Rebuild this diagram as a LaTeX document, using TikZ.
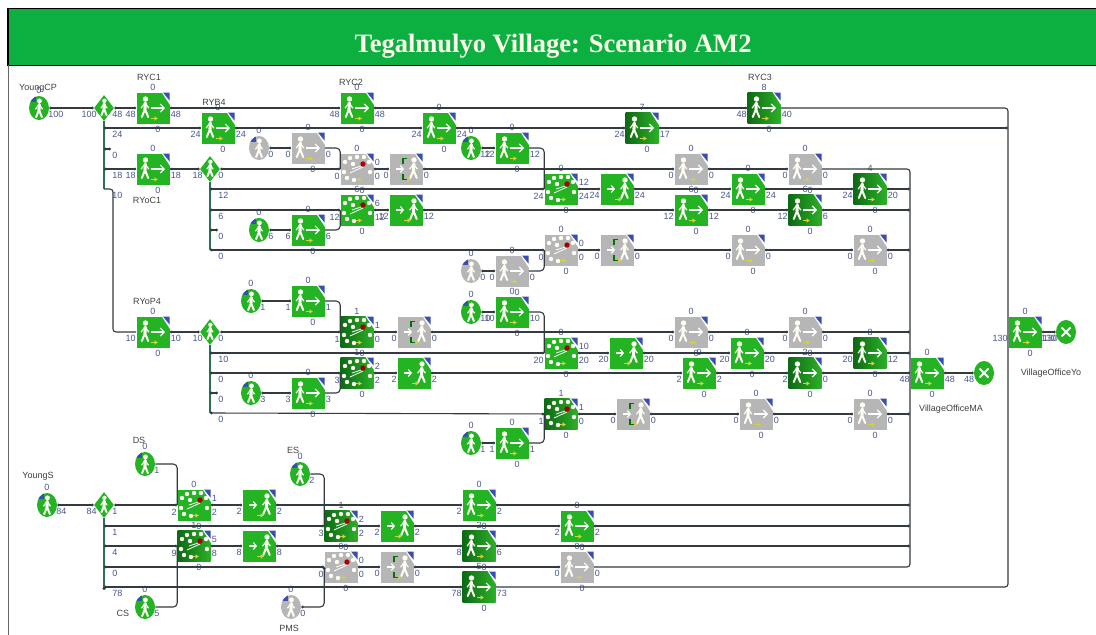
\documentclass[tikz,border=0pt]{standalone}
\usepackage{fontspec}
\setmainfont{Liberation Serif}
\setsansfont{Liberation Sans}
\usetikzlibrary{arrows.meta,shapes.geometric}
\definecolor{liteG}{HTML}{23B323}
\definecolor{deepL}{HTML}{0E6A14}
\definecolor{deepR}{HTML}{2CB028}
\definecolor{idleG}{HTML}{B6B6B6}
\definecolor{numC}{HTML}{47558F}
\definecolor{wireC}{HTML}{333A40}
\definecolor{busC}{HTML}{2F6F55}
\definecolor{cornerC}{HTML}{3A4DB0}
\definecolor{markC}{HTML}{D2D23C}
\definecolor{barC}{HTML}{0CB040}
\newcommand{\stage}[8]{%
  \node[boxn,#3] (#1) at (#2) {};
  \pic at (#1.center) {#4};
  \node[numl] (#1t) at ([shift={(0,-21)}]#1.center) {#5};
  \node[numl,anchor=east] (#1i) at ([shift={(-17,6.5)}]#1.center) {#6};
  \node[numl,anchor=west] (#1o) at ([shift={(17.5,6.5)}]#1.center) {#7};
  \node[numl] (#1b) at ([shift={(5,21)}]#1.center) {#8};
}
\newcommand{\pass}[5]{%
  \node[boxn,#3] (#1) at (#2) {};
  \pic at (#1.center) {#3icon};
  \node[numl,anchor=east] (#1i) at ([shift={(-17,6.5)}]#1.center) {#4};
  \node[numl,anchor=west] (#1o) at ([shift={(17.5,6.5)}]#1.center) {#5};
}
\newcommand{\merge}[8]{%
  \node[boxn,#3] (#1) at (#2) {};
  \pic at (#1.center) {mergeicon};
  \node[numl] (#1t) at ([shift={(0,-21)}]#1.center) {#4};
  \node[numl,anchor=east] (#1i) at ([shift={(-17,7)}]#1.center) {#5};
  \node[numl,anchor=west] (#1u) at ([shift={(17.5,-7)}]#1.center) {#6};
  \node[numl,anchor=west] (#1o) at ([shift={(17.5,7)}]#1.center) {#7};
  \node[numl] (#1b) at ([shift={(5,21)}]#1.center) {#8};
}
\newcommand{\source}[5]{%
  \node[srcn,#3] (#1) at (#2) {};
  \pic at (#1.center) {srcicon};
  \node[numl] (#1t) at ([shift={(0,-18)}]#1.center) {#4};
  \node[numl,anchor=west] (#1o) at ([shift={(9,6.5)}]#1.center) {#5};
}
\newcommand{\splitter}[4]{%
  \node[dian] (#1) at (#2) {};
  \pic[scale=0.8] at (#1.center) {walkman};
  \node[numl,anchor=east] (#1i) at ([shift={(-7,6.5)}]#1.center) {#3};
  \node[numl,anchor=west] (#1o) at ([shift={(8,6.5)}]#1.center) {#4};
}
\newcommand{\sink}[3]{%
  \node[srcn,lite] (#1) at (#2) {};
  \pic at (#1.center) {crossicon};
  \node[numl,anchor=east] (#1i) at ([shift={(-9.5,6.5)}]#1.center) {#3};
}
\newcommand{\branch}[3]{%
  \coordinate (#1) at (#2);
  \node[numl,anchor=west] (#1l) at ([shift={(8,6.5)}]#1) {#3};
}
\begin{document}
\begin{tikzpicture}[x=1pt,y=-1pt,semithick]
    \tikzset{boxn/.style={rectangle,minimum width=33,minimum height=31,inner sep=0pt},
      srcn/.style={ellipse,minimum width=20,minimum height=24,inner sep=0pt},
      dian/.style={diamond,fill=liteG,minimum width=20,minimum height=26,inner sep=0pt},
      lite/.style={fill=liteG},
      deep/.style={left color=deepL,right color=deepR},
      idle/.style={fill=idleG},
      enter/.style={lite},
      gateg/.style={idle},
      numl/.style={font=\sffamily\fontsize{9}{9}\selectfont,text=numC,inner sep=0pt},
      namel/.style={font=\sffamily\fontsize{9}{9}\selectfont,text=black!75,inner sep=0pt},
      link/.style={draw=wireC,line width=1.1pt,{Circle[length=2.6pt]}-{Circle[length=2.6pt]}},
      wire/.style={draw=wireC,line width=1.1pt,rounded corners=3pt},
      bus/.style={draw=busC,line width=1.2pt},
      walkman/.pic={
        \fill[white!96!yellow] (0.5,-9) circle (2.7);
        \draw[white!96!yellow,line width=3.1pt,line cap=round] (0.3,-5) -- (0,1);
        \draw[white!96!yellow,line width=2pt,line cap=round] (0,1) -- (-3.2,9) (0,1) -- (3.2,9);
        \draw[white!96!yellow,line width=1.2pt,line cap=round] (0,-5) -- (-3.8,0) (0,-5) -- (3.8,0);
      },
      corner/.pic={
        \fill[white] (8.5,-16) -- (17,-16) -- (17,-3) -- cycle;
        \fill[cornerC] (10,-15.5) -- (16.5,-15.5) -- (16.5,-7.5) -- cycle;
        \draw[markC,line width=1.6pt,-{Latex[length=3.5pt,width=5pt]}] (-2,10.5) -- (5,10.5);
      },
      walkicon/.pic={
        \pic at (0,0) {corner};
        \pic at (-8,0) {walkman};
        \draw[white,line width=1.1pt,-{Straight Barb[length=4pt,width=8pt]}] (-2,0) -- (12,0);
      },
      entericon/.pic={
        \pic at (0,0) {corner};
        \pic at (7.5,0) {walkman};
        \draw[white,line width=1.1pt,-{Straight Barb[length=3pt,width=7pt]}] (-10,0) -- (-2,0);
      },
      gategicon/.pic={
        \pic at (0,0) {entericon};
        \draw[green!45!black,line width=1.8pt] (1,-10.5) -- (-3,-10.5) -- (-3,-5) (-3,5) -- (-3,10.5) -- (1,10.5);
      },
      mergeicon/.pic={
        \pic at (0,0) {corner};
        \foreach \px/\py in {-12/-7,-7/-11,-13/3,-10/9,-4/-5,0/-12,7/-12,12/-7,13/3,-3/11}
          \fill[white!96!yellow] (\px,\py) circle (2.2);
        \draw[white,line width=0.8pt] (-7,4) -- (6,-2) (-5,0) -- (4,-3);
        \fill[red!65!black] (6,-5) circle (2.7);
      },
      srcicon/.pic={
        \begin{scope}
          \clip (0,0) ellipse (10 and 12);
          \fill[cornerC] (-10,-12) rectangle (-3,-6);
        \end{scope}
        \pic[scale=0.9] at (0,1) {walkman};
      },
      crossicon/.pic={
        \draw[white,line width=2pt] (-4.5,-4.5) -- (4.5,4.5) (-4.5,4.5) -- (4.5,-4.5);
      }};
    \useasboundingbox (0,0) rectangle (1096,635);
    % title and frame
    \node[rectangle,fill=barC,draw=black,line width=1.3pt,minimum width=1089,minimum height=57,inner sep=0pt] (sBar) at (552.5,37) {};
    \node[font=\rmfamily\bfseries\fontsize{26.5}{26.5}\selectfont,text=white!92!yellow,inner sep=0pt] (sTitle) at (553,46) {Tegalmulyo Village: Scenario AM2};
    \coordinate (cFrameT) at (8,65);
    \coordinate (cFrameB) at (8,635);
    \draw[black!60,line width=1pt] (cFrameT) -- (cFrameB);
    % young commuters part
    \source{sYoungCP}{39,108}{lite}{0}{100}
    \splitter{dCP}{104,108}{100}{48}
    \stage{sRYC1}{153,108}{lite}{walkicon}{0}{48}{48}{0}
    \stage{sRYC2}{357,108}{lite}{walkicon}{0}{48}{48}{0}
    \stage{sRYC3}{764,108}{deep}{walkicon}{8}{48}{40}{0}
    \branch{cCPa}{104,128}{24}
    \branch{cCPb}{104,149}{0}
    \branch{cCPc}{104,169}{18}
    \branch{cCPd}{104,189}{10}
    \coordinate (cCPe) at (111,149);
    \stage{sRYB4}{218,128}{lite}{walkicon}{0}{24}{24}{0}
    \stage{sB1}{439,128}{lite}{walkicon}{0}{24}{24}{0}
    \stage{sB2}{642,128}{deep}{walkicon}{7}{24}{17}{0}
    \stage{sRYoC1}{153,169}{lite}{walkicon}{0}{18}{18}{0}
    \splitter{dYC}{210,169}{18}{0}
    \branch{cYCa}{210,189}{12}
    \branch{cYCb}{210,210}{6}
    \branch{cYCc}{210,230}{0}
    \branch{cYCd}{210,250}{0}
    \coordinate (cYCe) at (218,230);
    \source{sCs}{259,148}{idle}{0}{0}
    \stage{sCb}{308,148}{idle}{walkicon}{0}{0}{0}{0}
    \merge{sC2}{357,169}{idle}{0}{0}{0}{0}{0}
    \pass{sC3}{406,169}{gateg}{0}{0}
    \stage{sC4}{691,169}{idle}{walkicon}{0}{0}{0}{0}
    \stage{sC5}{805,169}{idle}{walkicon}{0}{0}{0}{0}
    \source{sDs}{471,148}{lite}{0}{12}
    \stage{sDb}{512,148}{lite}{walkicon}{0}{12}{12}{0}
    \merge{sD2}{561,189}{lite}{0}{24}{12}{24}{0}
    \pass{sD3}{617,189}{enter}{24}{24}
    \stage{sD4}{748,189}{lite}{walkicon}{0}{24}{24}{0}
    \stage{sD5}{870,189}{deep}{walkicon}{4}{24}{20}{0}
    \source{sEs}{259,230}{lite}{0}{6}
    \stage{sEb}{308,230}{lite}{walkicon}{0}{6}{6}{0}
    \merge{sE2}{357,210}{lite}{6}{12}{6}{12}{0}
    \pass{sE3}{406,210}{enter}{12}{12}
    \stage{sE4}{691,210}{lite}{walkicon}{6}{12}{12}{0}
    \stage{sE5}{805,210}{deep}{walkicon}{6}{12}{6}{0}
    \source{sFs}{471,271}{idle}{0}{0}
    \stage{sFb}{512,271}{idle}{walkicon}{0}{0}{0}{0}
    \merge{sF2}{561,250}{idle}{0}{0}{0}{0}{0}
    \pass{sF3}{617,250}{gateg}{0}{0}
    \stage{sF4}{748,250}{idle}{walkicon}{0}{0}{0}{0}
    \stage{sF5}{870,250}{idle}{walkicon}{0}{0}{0}{0}
    % young parents part
    \stage{sRYoP4}{153,332}{lite}{walkicon}{0}{10}{10}{0}
    \splitter{dYP}{210,332}{10}{0}
    \branch{cYPa}{210,353}{10}
    \branch{cYPb}{210,373}{0}
    \branch{cYPc}{210,393}{0}
    \branch{cYPd}{210,413}{0}
    \coordinate (cYPe) at (218,393);
    \source{sGs}{251,301}{lite}{0}{1}
    \stage{sGb}{308,301}{lite}{walkicon}{0}{1}{1}{0}
    \merge{sG2}{357,332}{deep}{1}{1}{1}{0}{0}
    \pass{sG3}{414,332}{gateg}{0}{0}
    \stage{sG4}{691,332}{idle}{walkicon}{0}{0}{0}{0}
    \stage{sG5}{805,332}{idle}{walkicon}{0}{0}{0}{0}
    \source{sHs}{471,312}{lite}{0}{10}
    \stage{sHb}{512,312}{lite}{walkicon}{0}{10}{10}{0}
    \merge{sH2}{561,353}{lite}{0}{20}{10}{20}{0}
    \pass{sH3}{626,353}{enter}{20}{20}
    \stage{sH4}{747,353}{lite}{walkicon}{0}{20}{20}{0}
    \stage{sH5}{870,353}{deep}{walkicon}{8}{20}{12}{0}
    \source{sIs}{251,393}{lite}{0}{3}
    \stage{sIb}{308,393}{lite}{walkicon}{0}{3}{3}{0}
    \merge{sI2}{357,373}{deep}{1}{3}{2}{2}{0}
    \pass{sI3}{414,373}{enter}{2}{2}
    \stage{sI4}{699,373}{lite}{walkicon}{0}{2}{2}{0}
    \stage{sI5}{805,373}{deep}{walkicon}{2}{2}{0}{0}
    \source{sJs}{471,443}{lite}{0}{1}
    \stage{sJb}{512,443}{lite}{walkicon}{0}{1}{1}{0}
    \merge{sJ2}{561,414}{deep}{1}{1}{1}{0}{0}
    \pass{sJ3}{633,414}{gateg}{0}{0}
    \stage{sJ4}{756,414}{idle}{walkicon}{0}{0}{0}{0}
    \stage{sJ5}{870,414}{idle}{walkicon}{0}{0}{0}{0}
    % offices
    \stage{sMA}{927,373}{lite}{walkicon}{0}{48}{48}{0}
    \sink{eMA}{984,373}{48}
    \stage{sYo}{1025,332}{lite}{walkicon}{0}{130}{130}{0}
    \sink{eYo}{1066,332}{130}
    % school part
    \source{sYoungS}{47,505}{lite}{0}{84}
    \splitter{dYS}{104,505}{84}{1}
    \branch{cYSa}{104,526}{1}
    \branch{cYSb}{104,546}{4}
    \branch{cYSc}{104,567}{0}
    \branch{cYSd}{104,587}{78}
    \source{sDS}{145,464}{lite}{0}{1}
    \source{sCS}{145,607}{lite}{0}{5}
    \source{sES}{300,474}{lite}{0}{2}
    \source{sPMS}{291,607}{idle}{0}{0}
    \merge{sK2}{194,505}{lite}{0}{2}{1}{2}{0}
    \pass{sK3}{259,505}{enter}{2}{2}
    \stage{sK4}{479,505}{lite}{walkicon}{0}{2}{2}{0}
    \merge{sL2}{341,526}{deep}{1}{3}{2}{2}{0}
    \pass{sL3}{397,526}{enter}{2}{2}
    \stage{sL4}{577,526}{lite}{walkicon}{0}{2}{2}{0}
    \merge{sM2}{194,546}{deep}{1}{9}{5}{8}{0}
    \pass{sM3}{259,546}{enter}{8}{8}
    \stage{sM4}{479,546}{deep}{walkicon}{2}{8}{6}{0}
    \merge{sN2}{341,567}{idle}{0}{0}{0}{0}{0}
    \pass{sN3}{397,567}{gateg}{0}{0}
    \stage{sN4}{577,567}{idle}{walkicon}{0}{0}{0}{0}
    \stage{sO4}{479,587}{deep}{walkicon}{5}{78}{73}{0}
    % names
    \node[namel] (nCP) at (38,88) {YoungCP};
    \node[namel] (nRYC1) at (149,77) {RYC1};
    \node[namel] (nRYB4) at (214,102) {RYB4};
    \node[namel] (nRYC2) at (351,82) {RYC2};
    \node[namel] (nRYC3) at (760,77) {RYC3};
    \node[namel] (nRYoC1) at (147,200) {RYoC1};
    \node[namel] (nRYoP4) at (147,301) {RYoP4};
    \node[namel] (nMA) at (951,409) {VillageOfficeMA};
    \node[namel] (nYo) at (1051,373) {VillageOfficeYo};
    \node[namel] (nYS) at (38,476) {YoungS};
    \node[namel] (nDS) at (139,440) {DS};
    \node[namel] (nCS) at (123,613) {CS};
    \node[namel] (nES) at (293,450) {ES};
    \node[namel] (nPMS) at (289,628) {PMS};
    % bus points
    \coordinate (cCPf) at (113,189);
    \coordinate (cCPg) at (113,332);
    \coordinate (cYoT) at (1008,108);
    \coordinate (cYoa) at (1008,128);
    \coordinate (cYoB) at (1008,587);
    \coordinate (cMAT) at (910,169);
    \coordinate (cMAB) at (910,567);
    \foreach \row in {189,210,250,332,353,414,505,526,546}
      \coordinate (cMA\row) at (910,\row);
    {
      \draw[bus] (dCP) -- (cCPd);
      \draw[bus] (dYC) -- (cYCd);
      \draw[bus] (dYP) -- (cYPd);
      \draw[bus] (dYS) -- (cYSd);
      \draw[wire] (cCPd) -- (cCPf) -- (cCPg) -- (sRYoP4.west);
      \draw[wire] (sRYC3.east) -- (cYoT) -- (cYoB) -- (sO4.east);
      \draw[wire] (sC5.east) -- (cMAT) -- (cMAB) -- (sN4.east);
      \path[link]
        (sYoungCP) edge (dCP)
        (dCP) edge (sRYC1)
        (sRYC1) edge (sRYC2)
        (sRYC2) edge (sRYC3)
        (cCPa) edge (sRYB4)
        (sRYB4) edge (sB1)
        (sB1) edge (sB2)
        (sB2) edge (cYoa)
        (cCPb) edge (cCPe)
        (cCPc) edge (sRYoC1)
        (sRYoC1) edge (dYC)
        (dYC) edge (sC2)
        (sC2) edge (sC3)
        (sC3) edge (sC4)
        (sC4) edge (sC5)
        (sCs) edge (sCb)
        (sDs) edge (sDb)
        (cYCa) edge (sD2)
        (sD2) edge (sD3)
        (sD3) edge (sD4)
        (sD4) edge (sD5)
        (sD5) edge (cMA189)
        (cYCb) edge (sE2)
        (sE2) edge (sE3)
        (sE3) edge (sE4)
        (sE4) edge (sE5)
        (sE5) edge (cMA210)
        (sEs) edge (sEb)
        (cYCc) edge (cYCe)
        (cYCd) edge (sF2)
        (sF2) edge (sF3)
        (sF3) edge (sF4)
        (sF4) edge (sF5)
        (sF5) edge (cMA250)
        (sFs) edge (sFb)
        (sRYoP4) edge (dYP)
        (dYP) edge (sG2)
        (sG2) edge (sG3)
        (sG3) edge (sG4)
        (sG4) edge (sG5)
        (sG5) edge (cMA332)
        (sGs) edge (sGb)
        (sHs) edge (sHb)
        (cYPa) edge (sH2)
        (sH2) edge (sH3)
        (sH3) edge (sH4)
        (sH4) edge (sH5)
        (sH5) edge (cMA353)
        (cYPb) edge (sI2)
        (sI2) edge (sI3)
        (sI3) edge (sI4)
        (sI4) edge (sI5)
        (sI5) edge (sMA)
        (sMA) edge (eMA)
        (sIs) edge (sIb)
        (cYPc) edge (cYPe)
        (cYPd) edge (sJ2)
        (sJ2) edge (sJ3)
        (sJ3) edge (sJ4)
        (sJ4) edge (sJ5)
        (sJ5) edge (cMA414)
        (sJs) edge (sJb)
        (sYo) edge (eYo)
        (sYoungS) edge (dYS)
        (dYS) edge (sK2)
        (sK2) edge (sK3)
        (sK3) edge (sK4)
        (sK4) edge (cMA505)
        (cYSa) edge (sL2)
        (sL2) edge (sL3)
        (sL3) edge (sL4)
        (sL4) edge (cMA526)
        (cYSb) edge (sM2)
        (sM2) edge (sM3)
        (sM3) edge (sM4)
        (sM4) edge (cMA546)
        (cYSc) edge (sN2)
        (sN2) edge (sN3)
        (sN3) edge (sN4)
        (cYSd) edge (sO4)
        ;
      \draw[link,rounded corners=4pt]
        (sCb.east) -| (sC2.west)
        (sEb.east) -| (sE2.west)
        (sDb.east) -| (sD2.west)
        (sFb.east) -| (sF2.west)
        (sGb.east) -| (sG2.west)
        (sIb.east) -| (sI2.west)
        (sHb.east) -| (sH2.west)
        (sJb.east) -| (sJ2.west)
        (sDS.east) -| (sK2.west)
        (sCS.east) -| (sM2.west)
        (sES.east) -| (sL2.west)
        (sPMS.east) -| (sN2.west);
    }
\end{tikzpicture}
\end{document}
